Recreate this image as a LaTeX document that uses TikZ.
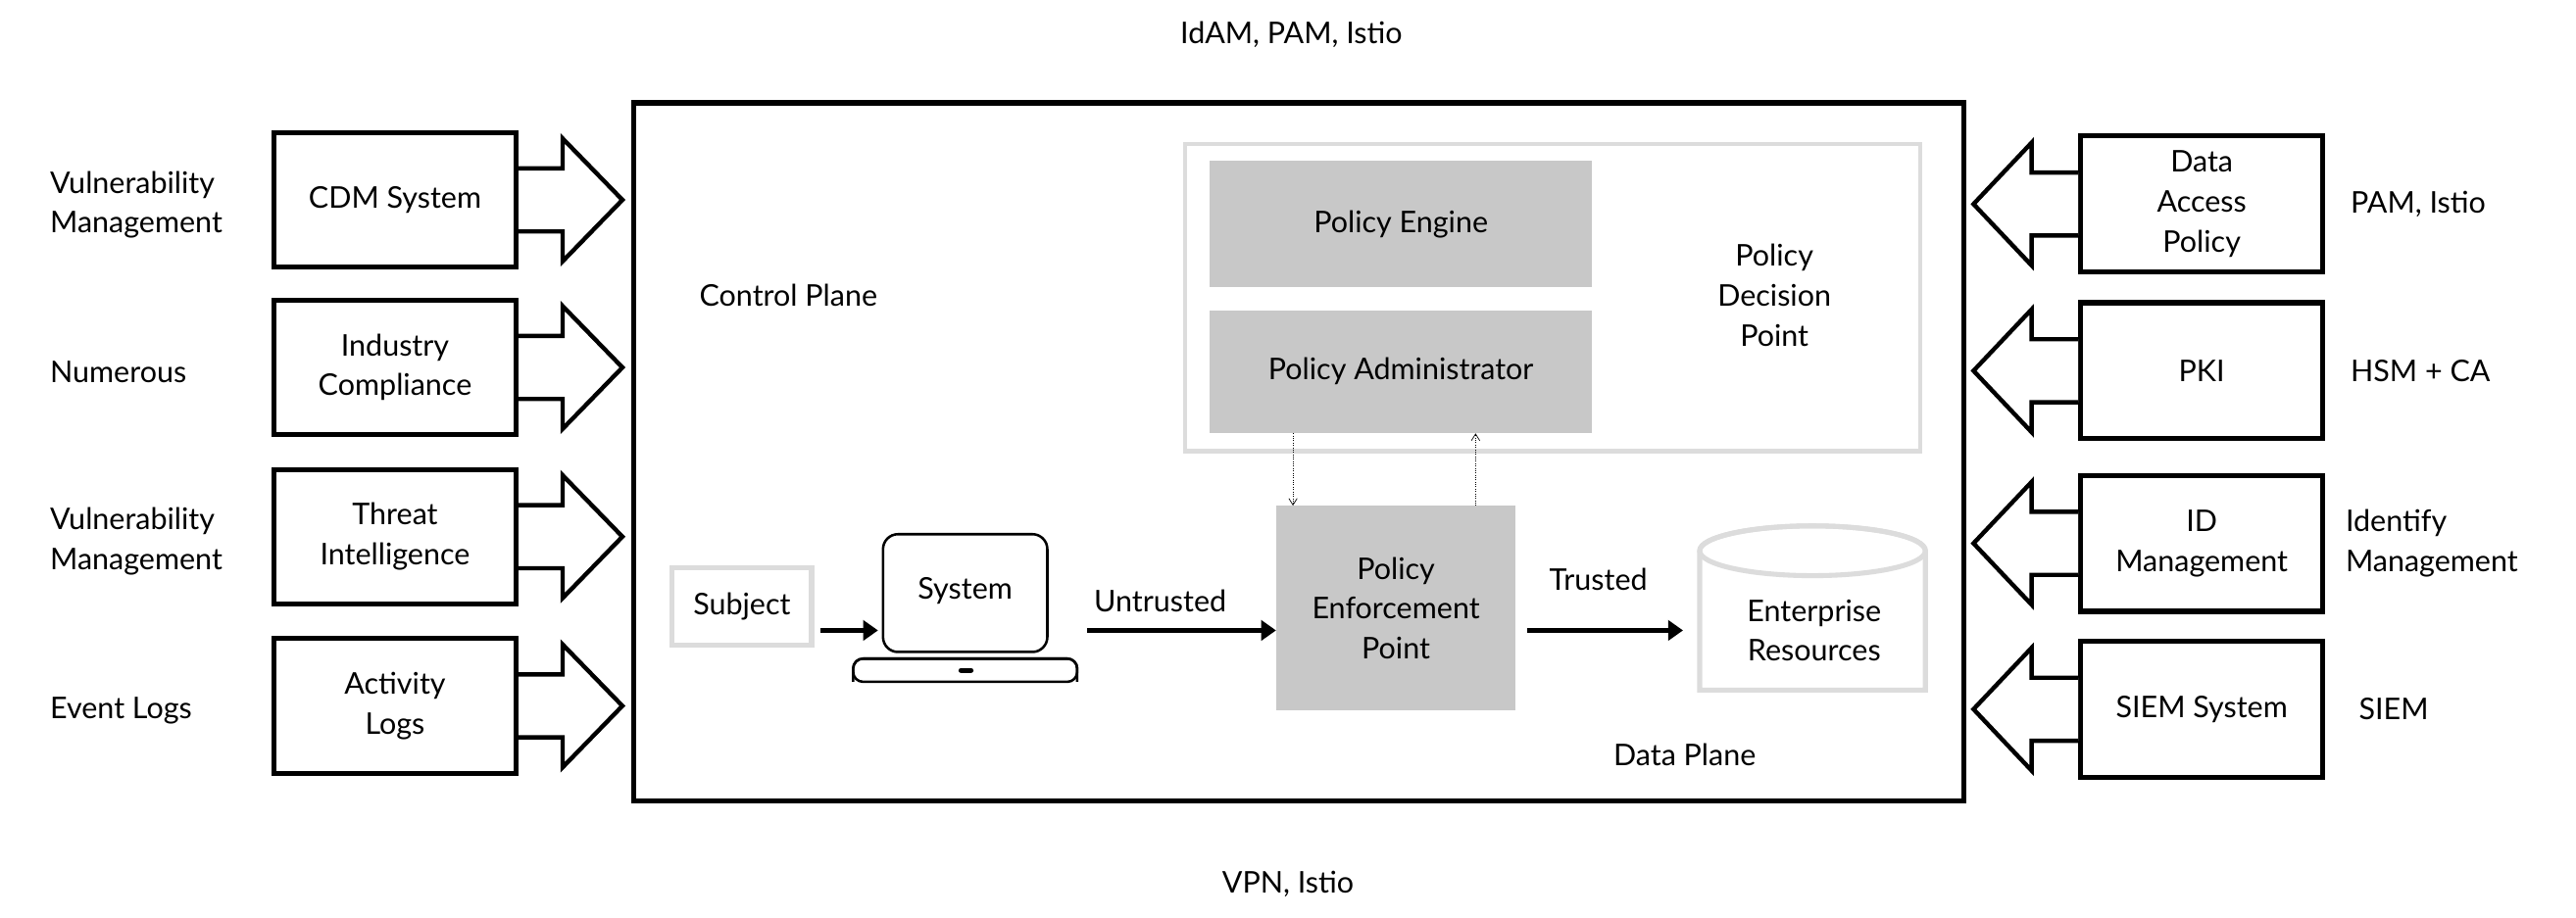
\documentclass[tikz,border=0pt]{standalone}
\usepackage{fontspec}
\setmainfont{Lato}
\usetikzlibrary{arrows.meta}
\definecolor{pg}{HTML}{C8C8C8}
\definecolor{lg}{HTML}{DCDCDC}
\begin{document}
\begin{tikzpicture}[x=1pt,y=-1pt,
  txt/.style={font=\fontsize{18}{24}\selectfont,align=center,inner sep=0},
  ltxt/.style={txt,align=left,anchor=west},
  src/.style={draw,line width=3pt,minimum width=146pt,minimum height=81pt,txt},
  gbox/.style={fill=pg,txt},
  fat/.style={draw,line width=2.6pt,fill=white,line join=miter},
  conn/.style={line width=3pt,-{Triangle[length=9pt,width=12pt]}},
  dots/.style={densely dotted,thin,-{Straight Barb[length=4pt,width=5pt]}}]
\useasboundingbox (0,0) rectangle (1552,553);
% main box
\node[draw,line width=3pt,minimum width=801pt,minimum height=421pt,inner sep=0] (main) at (782.5,272.5) {};
\node[draw=lg,line width=2.5pt,minimum width=443pt,minimum height=185pt,inner sep=0] (pdp) at (935.5,179.5) {};
\node[gbox,minimum width=230pt,minimum height=76pt] (pe) at (844,135) {Policy Engine};
\node[gbox,minimum width=230pt,minimum height=74pt] (pa) at (844,224) {Policy Administrator};
\node[txt] (pdpt) at (1069,178) {Policy\\Decision\\Point};
\node[gbox,minimum width=144pt,minimum height=123pt] (pep) at (841,366.5) {Policy\\Enforcement\\Point};
\draw[dots] (pa.south -| 779,0) -- (pep.north -| 779,0);
\draw[dots] (pep.north -| 889,0) -- (pa.south -| 889,0);
\node[txt] (cp) at (475,178) {Control Plane};
\node[txt] (dp) at (1015,455) {Data Plane};
\node[txt] (top) at (778,21) {IdAM, PAM, Istio};
\node[txt] (bot) at (776,533) {VPN, Istio};
% subject & laptop
\node[draw=lg,line width=3pt,minimum width=84pt,minimum height=47pt,txt] (subj) at (447,365.5) {Subject};
\draw[line width=1.5pt,rounded corners=9pt] (532,322) rectangle (631,393);
\node[txt] (sys) at (581.5,356) {System};
\coordinate (sysL) at (529,380);
\coordinate (sysR) at (651,380);
\draw[line width=1.5pt,rounded corners=6pt] (514,397) -- (514,411) -- (649,411) -- (649,397) -- cycle;
\draw[line width=1.5pt,rounded corners=6pt] (514,411) -- (514,397) -- (649,397) -- (649,411);
\draw[line width=3pt,line cap=round] (579,404) -- (585,404);
\draw[conn] (subj.east|-0,380) ++(4,0) -- (sysL);
\draw[conn] (sysR) ++(4,0) -- (pep.west|-0,380);
\node[txt] (untr) at (699,362) {Untrusted};
\node[txt] (tr) at (963,349) {Trusted};
% cylinder
\draw[lg,line width=3pt,fill=white] (1024,332) -- (1024,416) -- (1160,416) -- (1160,332) arc[start angle=0,end angle=-180,x radius=68pt,y radius=-15pt]; 
\draw[lg,line width=3pt] (1092,332) ellipse [x radius=68pt,y radius=15pt];
\node[txt] (er) at (1093,380) {Enterprise\\Resources};
\coordinate (erL) at (1014,380);
\draw[conn] (pep.east|-0,380) ++(7,0) -- (erL);
% left sources
\foreach \n/\y/\t/\l in {cdm/120.5/CDM System/{Vulnerability\\Management},
  ind/221.5/{Industry\\Compliance}/Numerous,
  thr/323.5/{Threat\\Intelligence}/{Vulnerability\\Management},
  act/425.5/{Activity\\Logs}/Event Logs}{
  \node[src] (\n) at (238,\y) {\t};
  \node[ltxt] (\n l) at (30,\y+3) {\l};
  \draw[fat] (\n.east|-0,\y-19) -- (339,\y-19) -- (339,\y-37) -- (375,\y) -- (339,\y+37) -- (339,\y+19) -- (\n.east|-0,\y+19);
}
% right sources
\foreach \n/\y/\t/\l/\xx in {dap/123/{Data\\Access\\Policy}/{PAM, Istio}/1416,
  pki/223.5/PKI/HSM + CA/1416,
  idm/327.5/{ID\\Management}/{Identify\\Management}/1413,
  siem/427.5/SIEM System/SIEM/1421}{
  \node[src,minimum height=82pt] (\n) at (1326.5,\y) {\t};
  \node[ltxt] (\n l) at (\xx,\y) {\l};
  \draw[fat] (\n.west|-0,\y-19) -- (1224,\y-19) -- (1224,\y-37) -- (1189,\y) -- (1224,\y+37) -- (1224,\y+19) -- (\n.west|-0,\y+19);
}
\end{tikzpicture}
\end{document}
